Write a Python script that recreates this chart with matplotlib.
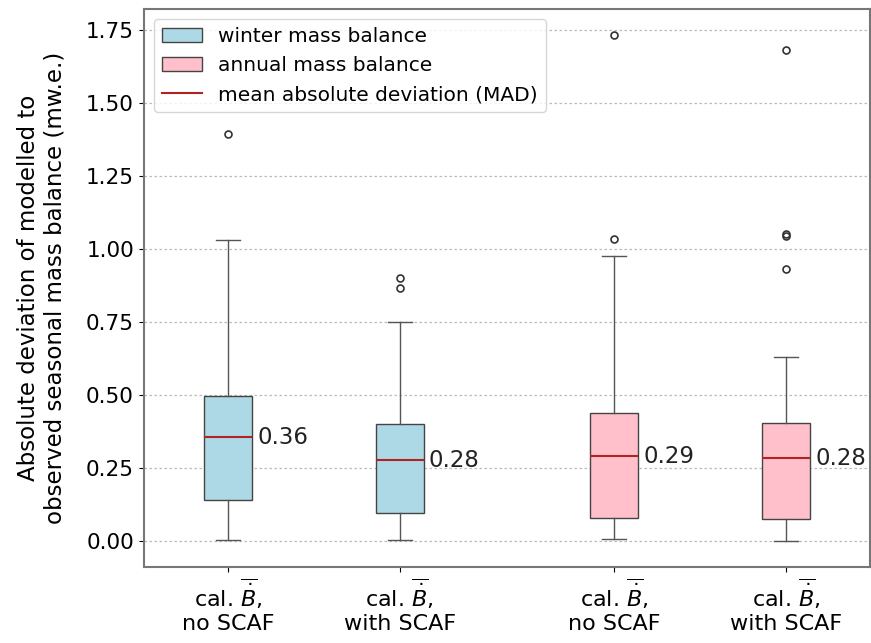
import numpy as np
import matplotlib.pyplot as plt
from matplotlib.patches import Patch
from matplotlib.lines import Line2D

# box statistics (m w.e.)
labels = [r'cal. $\overline{\dot{B}}$,' + '\nno SCAF', r'cal. $\overline{\dot{B}}$,' + '\nwith SCAF',
          r'cal. $\overline{\dot{B}}$,' + '\nno SCAF', r'cal. $\overline{\dot{B}}$,' + '\nwith SCAF']
positions = [1, 2, 3.25, 4.25]
whislo = [0.005, 0.005, 0.007, 0.0]
q1 = [0.14, 0.096, 0.079, 0.075]
mad = [0.355, 0.277, 0.29, 0.284]
q3 = [0.496, 0.40, 0.44, 0.403]
whishi = [1.03, 0.752, 0.977, 0.629]
fliers = [[1.395], [0.90, 0.868], [1.036, 1.733], [1.68, 1.05, 1.045, 0.933]]
mad_text = ['0.36', '0.28', '0.29', '0.28']
colors = ['lightblue', 'lightblue', 'pink', 'pink']

stats = []
for i in range(4):
    stats.append(dict(med=mad[i], q1=q1[i], q3=q3[i], whislo=whislo[i],
                      whishi=whishi[i], fliers=fliers[i]))

fig, ax = plt.subplots(figsize=(8.71, 6.43), dpi=100)

bp = ax.bxp(stats, positions=positions, widths=0.28, patch_artist=True,
            medianprops=dict(color='#b22222', linewidth=1.5),
            boxprops=dict(edgecolor='#444444', linewidth=1),
            whiskerprops=dict(color='#555555', linewidth=1),
            capprops=dict(color='#555555', linewidth=1),
            flierprops=dict(marker='o', markerfacecolor='none', markeredgecolor='#333333',
                            markersize=5, markeredgewidth=1.2))
for patch, c in zip(bp['boxes'], colors):
    patch.set_facecolor(c)

for p, m, t in zip(positions, mad, mad_text):
    ax.text(p + 0.17, m, t, fontsize=16.5, va='center', ha='left', color='#222222')

ax.set_xticks(positions)
ax.set_xticklabels(labels, fontsize=16)
ax.set_yticks(np.arange(0, 1.76, 0.25))
ax.set_yticklabels(['%.2f' % v for v in np.arange(0, 1.76, 0.25)], fontsize=15.5)
ax.set_ylim(-0.089, 1.822)
ax.set_xlim(0.51, 4.74)
ax.set_ylabel('Absolute deviation of modelled to\nobserved seasonal mass balance (mw.e.)',
              fontsize=16.5, labelpad=14)
ax.yaxis.grid(True, linestyle=(0, (2, 2)), color='#bbbbbb', linewidth=0.9)
ax.set_axisbelow(True)
for s in ax.spines.values():
    s.set_color('#777777')
    s.set_linewidth(1.5)

handles = [Patch(facecolor='lightblue', edgecolor='#444444', label='winter mass balance'),
           Patch(facecolor='pink', edgecolor='#444444', label='annual mass balance'),
           Line2D([0], [0], color='#b22222', label='mean absolute deviation (MAD)')]
ax.legend(handles=handles, loc='upper left', fontsize=14.5)

fig.subplots_adjust(left=0.165, right=0.999, top=0.986, bottom=0.118)
fig.savefig('out.png')
